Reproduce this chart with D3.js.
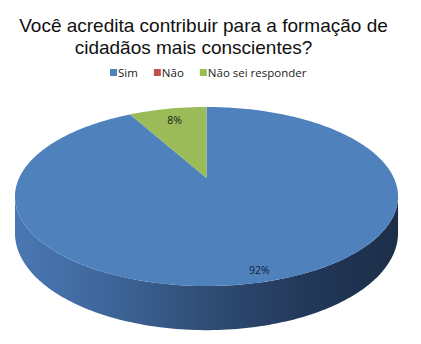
<!DOCTYPE html>
<html>
<head>
<meta charset="utf-8">
<script src="https://cdn.jsdelivr.net/npm/d3@7"></script>
<style>
  html, body { margin: 0; padding: 0; background: #fff; }
  svg { display: block; }
</style>
</head>
<body>
<div id="chart"></div>
<script>
// data
const titleLines = ["Você acredita contribuir para a formação de", "cidadãos mais conscientes?"];
const categories = ["Sim", "Não", "Não sei responder"];
const values = [92, 0, 8];
const labels = ["92%", "0%", "8%"];
const colors = ["#4f81bd", "#c0504d", "#9bbb59"];

const width = 421, height = 344;

// 3d pie geometry (perspective on a tilted disc)
const cx = 206.5, cy = 178;
const rx = 187.4, ry = 85.7;
const persp = 0.2067;     // near side looks bigger
const depth = 35;         // side height before perspective

const svg = d3.select("#chart").append("svg")
  .attr("width", width)
  .attr("height", height);

// angle 0 = 12 o'clock, clockwise; r in [0,1]; drop = how far down the side
function proj(theta, r, drop) {
  const u = r * Math.sin(theta);
  const w = -r * Math.cos(theta);
  const s = 1 / (1 - persp * w);
  return [cx + rx * u * s, cy + ry * w * s + (drop ? depth * s : 0)];
}

function arcPoints(a0, a1, r, drop) {
  const n = Math.max(2, Math.ceil(Math.abs(a1 - a0) / 0.02));
  return d3.range(n + 1).map(i => proj(a0 + (a1 - a0) * i / n, r, drop));
}

const line = d3.line();

const pie = d3.pie().sort(null).value(d => d)(values);

// side gradient
const defs = svg.append("defs");
const grad = defs.append("linearGradient")
  .attr("id", "side")
  .attr("gradientUnits", "userSpaceOnUse")
  .attr("x1", 15).attr("x2", 398).attr("y1", 0).attr("y2", 0);
[["0", "#4a78b4"], ["0.25", "#3e6599"], ["0.5", "#2f4d75"], ["0.75", "#23395a"], ["1", "#1c2e48"]]
  .forEach(s => grad.append("stop").attr("offset", s[0]).attr("stop-color", s[1]));

// visible side: between the two silhouette angles on the near half
const sideA = Math.acos(-persp), sideB = 2 * Math.PI - Math.acos(-persp);

const gSide = svg.append("g");
pie.forEach((p, i) => {
  const a0 = Math.max(p.startAngle, sideA), a1 = Math.min(p.endAngle, sideB);
  if (a1 <= a0) return;
  const top = arcPoints(a0, a1, 1, false);
  const bot = arcPoints(a1, a0, 1, true);
  gSide.append("path")
    .attr("d", line(top.concat(bot)) + "Z")
    .attr("fill", i === 0 ? "url(#side)" : d3.color(colors[i]).darker(1.2));
});

// top face
const gTop = svg.append("g");
pie.forEach((p, i) => {
  if (p.endAngle - p.startAngle <= 0) return;
  const pts = [proj(0, 0, false)].concat(arcPoints(p.startAngle, p.endAngle, 1, false));
  gTop.append("path")
    .attr("d", line(pts) + "Z")
    .attr("fill", colors[i]);
});

// slice labels
pie.forEach((p, i) => {
  if (values[i] === 0) return;
  const mid = (p.startAngle + p.endAngle) / 2;
  const pt = proj(mid, 0.88, false);
  svg.append("text")
    .attr("x", pt[0] + 3).attr("y", pt[1] + 5)
    .attr("text-anchor", "middle")
    .attr("dominant-baseline", "middle")
    .attr("font-family", "'Open Sans', sans-serif")
    .attr("font-size", 10.5)
    .attr("fill", i === 0 ? "#14233a" : "#1a1a1a")
    .text(labels[i]);
});

// title
const titleX = [203.5, 193.5];
svg.append("g").selectAll("text")
  .data(titleLines)
  .join("text")
  .attr("x", (d, i) => titleX[i])
  .attr("y", (d, i) => 32 + i * 22)
  .attr("text-anchor", "middle")
  .attr("font-family", "'Liberation Sans', Arial, sans-serif")
  .attr("font-size", 19)
  .attr("fill", "#111")
  .text(d => d);

// legend
const legend = svg.append("g");
let lx = 110;
categories.forEach((c, i) => {
  legend.append("rect")
    .attr("x", lx).attr("y", 69)
    .attr("width", 7).attr("height", 7)
    .attr("fill", colors[i]);
  const t = legend.append("text")
    .attr("x", lx + 8).attr("y", 77)
    .attr("font-family", "'Open Sans', sans-serif")
    .attr("font-size", 11.5)
    .attr("fill", "#222")
    .text(c);
  lx += 8 + t.node().getComputedTextLength() + 16;
});
</script>
</body>
</html>
